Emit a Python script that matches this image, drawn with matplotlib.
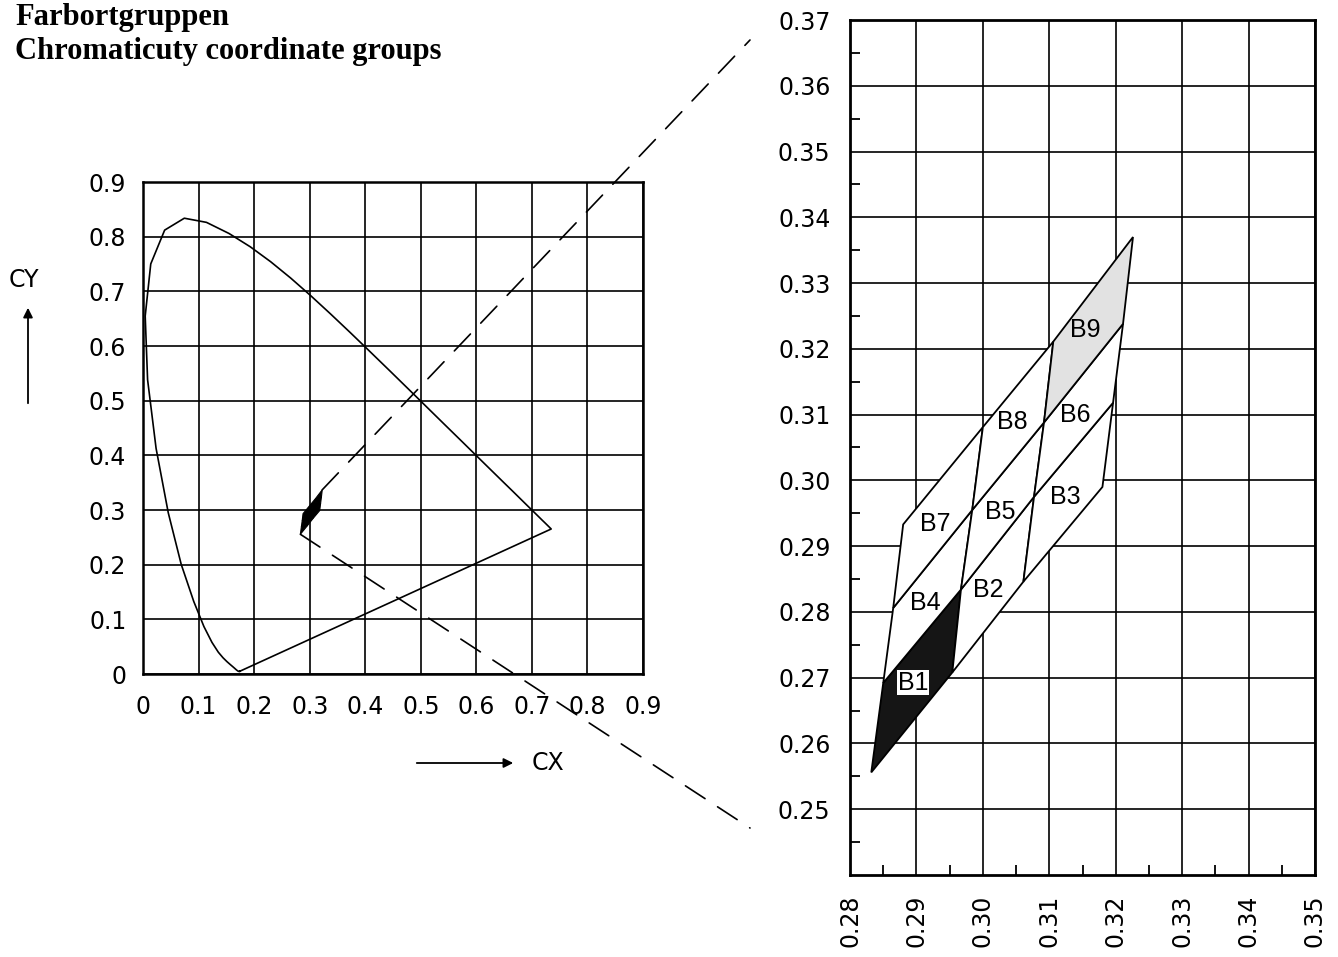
import matplotlib
matplotlib.use("Agg")
import matplotlib.pyplot as plt
from matplotlib.patches import Polygon, ConnectionPatch
import numpy as np

# CIE 1931 spectral locus (380..700 nm, 5 nm steps)
locus_x = [0.1741, 0.1740, 0.1738, 0.1736, 0.1733, 0.1730, 0.1726, 0.1721, 0.1714, 0.1703,
           0.1689, 0.1669, 0.1644, 0.1611, 0.1566, 0.1510, 0.1440, 0.1355, 0.1241, 0.1096,
           0.0913, 0.0687, 0.0454, 0.0235, 0.0082, 0.0039, 0.0139, 0.0389, 0.0743, 0.1142,
           0.1547, 0.1929, 0.2296, 0.2658, 0.3016, 0.3373, 0.3731, 0.4087, 0.4441, 0.4788,
           0.5125, 0.5448, 0.5752, 0.6029, 0.6270, 0.6482, 0.6658, 0.6801, 0.6915, 0.7006,
           0.7079, 0.7140, 0.7190, 0.7230, 0.7260, 0.7283, 0.7300, 0.7311, 0.7320, 0.7327,
           0.7334, 0.7340, 0.7344, 0.7346, 0.7347]
locus_y = [0.0050, 0.0050, 0.0049, 0.0049, 0.0048, 0.0048, 0.0048, 0.0048, 0.0051, 0.0058,
           0.0069, 0.0086, 0.0109, 0.0138, 0.0177, 0.0227, 0.0297, 0.0399, 0.0578, 0.0868,
           0.1327, 0.2007, 0.2950, 0.4127, 0.5384, 0.6548, 0.7502, 0.8120, 0.8338, 0.8262,
           0.8059, 0.7816, 0.7543, 0.7243, 0.6923, 0.6589, 0.6245, 0.5896, 0.5547, 0.5202,
           0.4866, 0.4544, 0.4242, 0.3965, 0.3725, 0.3514, 0.3340, 0.3197, 0.3083, 0.2993,
           0.2920, 0.2859, 0.2809, 0.2770, 0.2740, 0.2717, 0.2700, 0.2689, 0.2680, 0.2673,
           0.2666, 0.2660, 0.2656, 0.2654, 0.2653]

# corner points of the bins, grid_x[a][b], a = across steep lines, b = across diagonals
grid_x = [[0.2832, 0.2850, 0.2865, 0.2880],
          [0.2954, 0.2967, 0.2984, 0.3000],
          [0.3061, 0.3077, 0.3092, 0.3106],
          [0.3180, 0.3196, 0.3211, 0.3226]]
grid_y = [[0.2556, 0.2692, 0.2806, 0.2933],
          [0.2708, 0.2834, 0.2955, 0.3081],
          [0.2846, 0.2975, 0.3088, 0.3211],
          [0.2990, 0.3118, 0.3238, 0.3370]]

bin_names = ["B1", "B2", "B3", "B4", "B5", "B6", "B7", "B8", "B9"]
label_x = [0.2895, 0.3008, 0.3124, 0.2913, 0.3026, 0.3139, 0.2928, 0.3045, 0.3154]
label_y = [0.2692, 0.2834, 0.2975, 0.2814, 0.2952, 0.3100, 0.2933, 0.3089, 0.3229]

left_ticks = [0, 0.1, 0.2, 0.3, 0.4, 0.5, 0.6, 0.7, 0.8, 0.9]
left_labels = ["0", "0.1", "0.2", "0.3", "0.4", "0.5", "0.6", "0.7", "0.8", "0.9"]
right_xticks = [0.28, 0.29, 0.30, 0.31, 0.32, 0.33, 0.34, 0.35]
right_yticks = [0.25, 0.26, 0.27, 0.28, 0.29, 0.30, 0.31, 0.32, 0.33, 0.34, 0.35, 0.36, 0.37]

plt.rcParams['font.family'] = ['DejaVu Sans']

fig = plt.figure(figsize=(13.38, 9.57), dpi=100)
fig.patch.set_facecolor('white')


def cell(a, b):
    return [(grid_x[a][b], grid_y[a][b]), (grid_x[a + 1][b], grid_y[a + 1][b]),
            (grid_x[a + 1][b + 1], grid_y[a + 1][b + 1]), (grid_x[a][b + 1], grid_y[a][b + 1])]


# ---------------- left: full diagram ----------------
ax1 = fig.add_axes([0.1069, 0.2957, 0.3737, 0.5141])
ax1.set_xlim(0, 0.9)
ax1.set_ylim(0, 0.9)
ax1.set_xticks(left_ticks)
ax1.set_yticks(left_ticks)
ax1.set_xticklabels(left_labels, fontsize=17)
ax1.set_yticklabels(left_labels, fontsize=17)
ax1.tick_params(length=0, pad=12)
ax1.tick_params(axis='x', pad=15)
ax1.grid(True, color='black', lw=1.2)
for s in ax1.spines.values():
    s.set_linewidth(1.8)

lx = locus_x + [locus_x[0]]
ly = locus_y + [locus_y[0]]
ax1.plot(lx, ly, color='black', lw=1.2, solid_joinstyle='round')
for a in range(3):
    for b in range(3):
        ax1.add_patch(Polygon(cell(a, b), closed=True, facecolor='black',
                              edgecolor='black', lw=0.8))

# ---------------- right: zoomed bins ----------------
ax2 = fig.add_axes([0.6353, 0.0857, 0.3475, 0.8934])
ax2.set_xlim(0.28, 0.35)
ax2.set_ylim(0.24, 0.37)
ax2.set_xticks(right_xticks)
ax2.set_yticks(right_yticks)
ax2.set_xticklabels(["%.2f" % v for v in right_xticks], rotation=90, fontsize=17)
ax2.set_yticklabels(["%.2f" % v for v in right_yticks], fontsize=17)
ax2.set_xticks(np.arange(0.285, 0.35, 0.01), minor=True)
ax2.set_yticks(np.arange(0.245, 0.37, 0.01), minor=True)
ax2.tick_params(which='major', length=0, pad=14)
ax2.tick_params(which='minor', direction='in', length=7, width=1.3)
ax2.grid(True, which='major', color='black', lw=1.2)
for s in ax2.spines.values():
    s.set_linewidth(2.0)

fills = {0: '#151515', 8: '#e2e2e2'}
k = 0
for b in range(3):
    for a in range(3):
        fc = fills.get(k, 'white')
        ax2.add_patch(Polygon(cell(a, b), closed=True, facecolor=fc,
                              edgecolor='black', lw=1.3, zorder=3))
        k += 1

for i, name in enumerate(bin_names):
    if i == 0:
        ax2.text(label_x[i], label_y[i], name, fontsize=18, family='Liberation Sans',
                 ha='center', va='center', zorder=5,
                 bbox=dict(facecolor='white', edgecolor='none', pad=0.3))
    else:
        ax2.text(label_x[i], label_y[i], name, fontsize=18, family='Liberation Sans',
                 ha='center', va='center', zorder=5)

# dashed zoom lines
for xyA, xyB in [((grid_x[3][3], grid_y[3][3]), (750, 957 - 40)),
                 ((grid_x[0][0], grid_y[0][0]), (750, 957 - 828))]:
    con = ConnectionPatch(xyA=xyA, coordsA=ax1.transData, xyB=xyB, coordsB='figure pixels',
                          color='black', lw=1.2, linestyle=(0, (14, 9)))
    fig.add_artist(con)

# axis captions with arrows
fig.text(24 / 1338, 1 - 280 / 957, "CY", fontsize=17, ha='center', va='center')
ax1.annotate("", xy=(28, 957 - 305), xycoords='figure pixels',
             xytext=(28, 957 - 406), textcoords='figure pixels',
             arrowprops=dict(arrowstyle='-|>', color='black', lw=1.3, mutation_scale=14))
fig.text(548 / 1338, 1 - 763 / 957, "CX", fontsize=17, ha='center', va='center')
ax1.annotate("", xy=(516, 957 - 763), xycoords='figure pixels',
             xytext=(414, 957 - 763), textcoords='figure pixels',
             arrowprops=dict(arrowstyle='-|>', color='black', lw=1.3, mutation_scale=14))

# title
fig.text(15 / 1338, 1 - 18 / 957, "Farbortgruppen", fontsize=22, fontweight='bold',
         family='Liberation Serif', ha='left', va='center')
fig.text(15 / 1338, 1 - 52 / 957, "Chromaticuty coordinate groups", fontsize=22,
         fontweight='bold', family='Liberation Serif', ha='left', va='center')

fig.savefig("out.png", dpi=100)
